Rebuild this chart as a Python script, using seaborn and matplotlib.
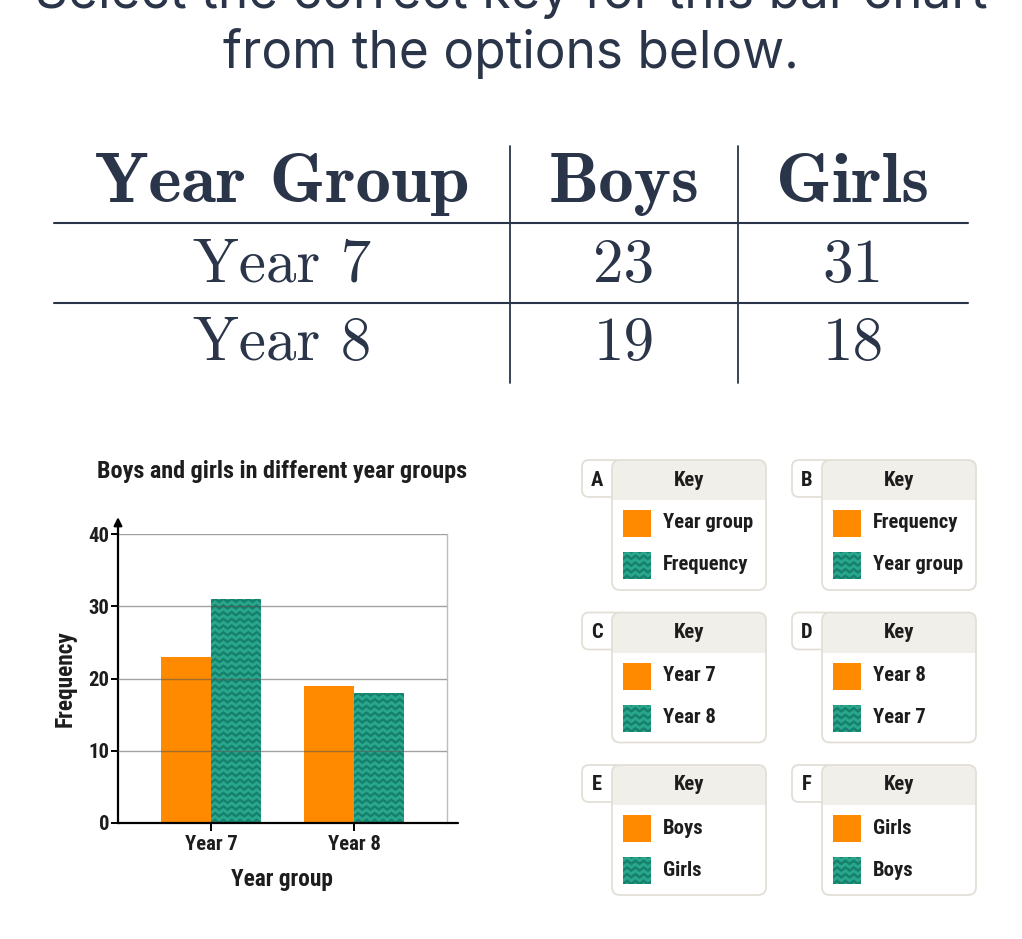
import numpy as np
import pandas as pd
import matplotlib
matplotlib.use('Agg')
import matplotlib.pyplot as plt
import seaborn as sns
from matplotlib import font_manager
from matplotlib.font_manager import FontProperties
from matplotlib.patches import FancyBboxPatch, Rectangle
from matplotlib.lines import Line2D
from matplotlib.transforms import IdentityTransform

# data
years = ['Year 7', 'Year 8']
boys = [23, 19]
girls = [31, 18]
table_head = ['Year Group', 'Boys', 'Girls']
key_letters = ['A', 'B', 'C', 'D', 'E', 'F']
key_first = ['Year group', 'Frequency', 'Year 7', 'Year 8', 'Boys', 'Girls']
key_second = ['Frequency', 'Year group', 'Year 8', 'Year 7', 'Girls', 'Boys']
title = 'Boys and girls in different year groups'

ORANGE = '#FF8A00'
TEAL = '#29A68C'
ZIG = '#15806B'
INK = '#2B3549'
EDGE = '#E2DFD7'
BEIGE = '#F1EFEA'
DARK = '#1D1D1D'

sns.set_style('white')
plt.rcParams['font.family'] = ['Roboto', 'DejaVu Sans']

# look for a narrow/condensed bold face, the chart uses one
order = ['Liberation Sans Narrow', 'Roboto Condensed', 'Noto Sans', 'Open Sans', 'DejaVu Sans']
cands = []
for f in font_manager.fontManager.ttflist:
    bold = f.weight in (700, 'bold')
    narrow = f.stretch == 'condensed' or 'Narrow' in f.name or 'Condensed' in f.name
    if bold and narrow and f.style == 'normal':
        rank = next((i for i, n in enumerate(order) if f.name.startswith(n)), 99)
        cands.append((rank, f.fname))
if cands:
    FP = FontProperties(fname=sorted(cands)[0][1])
else:
    FP = FontProperties(family='Roboto', weight='bold')


def nf(size):
    p = FP.copy()
    p.set_size(size)
    return p


W, H = 1022, 939
fig = plt.figure(figsize=(W / 100, H / 100), dpi=100)
fig.patch.set_facecolor('white')
rend = fig.canvas.get_renderer()

# scale the narrow face so the chart title is as wide as in the picture
probe = fig.text(0, 0, title, fontproperties=nf(17.5))
k = 369 / probe.get_window_extent(rend).width
probe.remove()

# full-figure canvas in pixel units (y down)
bg = fig.add_axes([0, 0, 1, 1])
bg.set_xlim(0, W)
bg.set_ylim(H, 0)
bg.axis('off')

bg.text(511, 8, 'Select the correct key for this bar chart', ha='center', va='baseline',
        fontsize=37, family=['Inter', 'DejaVu Sans'], color=INK)
bg.text(511, 68, 'from the options below.', ha='center', va='baseline',
        fontsize=37, family=['Inter', 'DejaVu Sans'], color=INK)

# table
col_x = [282, 624, 853]
for x, t in zip(col_x, table_head):
    bg.text(x, 202, t, ha='center', va='baseline', fontsize=51,
            family=['cmb10', 'DejaVu Serif'], color=INK)
rows = [[y, str(b), str(g)] for y, b, g in zip(years, boys, girls)]
for base, row in zip([282, 360], rows):
    for x, t in zip(col_x, row):
        bg.text(x, base, t, ha='center', va='baseline', fontsize=44,
                family=['cmr10', 'DejaVu Serif'], color=INK)
for y in [223, 303]:
    bg.plot([54, 968], [y, y], color=INK, lw=1.5)
for x in [510, 738]:
    bg.plot([x, x], [146, 383], color=INK, lw=1.3)


def zigzag(ax, patch, step=6.7, period=8.3, amp=3.2):
    bb = patch.get_window_extent(rend)
    xs = np.arange(bb.x0 - period, bb.x1 + period, period / 2)
    for y in np.arange(bb.y0 - step, bb.y1 + step, step):
        ys = y + amp * (np.arange(len(xs)) % 2)
        ln = Line2D(xs, ys, transform=IdentityTransform(), color=ZIG, lw=1.7,
                    solid_joinstyle='miter', zorder=patch.get_zorder() + 0.1)
        ax.add_artist(ln)
        ln.set_clip_path(patch)


# key boxes
for i, (let, a, b) in enumerate(zip(key_letters, key_first, key_second)):
    bx = 612 + 210 * (i % 2)
    by = 460 + 152.5 * (i // 2)
    bg.add_patch(FancyBboxPatch((bx - 30, by), 40, 37, boxstyle='round,pad=0,rounding_size=7',
                                fc='white', ec=EDGE, lw=1.3, zorder=1))
    bg.add_patch(FancyBboxPatch((bx, by), 154, 130, boxstyle='round,pad=0,rounding_size=8',
                                fc='white', ec='none', zorder=2))
    bg.add_patch(FancyBboxPatch((bx, by), 154, 40, boxstyle='round,pad=0,rounding_size=8',
                                fc=BEIGE, ec='none', zorder=3))
    bg.add_patch(Rectangle((bx, by + 20), 154, 20, fc=BEIGE, ec='none', zorder=3))
    bg.add_patch(FancyBboxPatch((bx, by), 154, 130, boxstyle='round,pad=0,rounding_size=8',
                                fc='none', ec=EDGE, lw=1.3, zorder=4))
    bg.text(bx - 15, by + 20, let, ha='center', va='center', fontproperties=nf(15 * k),
            color=DARK, zorder=5)
    bg.text(bx + 77, by + 20, 'Key', ha='center', va='center', fontproperties=nf(15 * k),
            color=DARK, zorder=5)
    s1 = Rectangle((bx + 11, by + 50), 28, 27, fc=ORANGE, ec='none', zorder=5)
    s2 = Rectangle((bx + 11, by + 92), 28, 27, fc=TEAL, ec='none', zorder=5)
    bg.add_patch(s1)
    bg.add_patch(s2)
    zigzag(bg, s2)
    bg.text(bx + 51, by + 63, a, ha='left', va='center', fontproperties=nf(15 * k),
            color=DARK, zorder=5)
    bg.text(bx + 51, by + 105, b, ha='left', va='center', fontproperties=nf(15 * k),
            color=DARK, zorder=5)

# bar chart
ax = fig.add_axes([118 / W, 1 - 823 / H, (447 - 118) / W, (823 - 534) / H])
ax.set_facecolor('none')
df = pd.DataFrame({'Year group': years * 2,
                   'Gender': ['Boys'] * len(years) + ['Girls'] * len(years),
                   'Frequency': boys + girls})
sns.barplot(data=df, x='Year group', y='Frequency', hue='Gender',
            palette={'Boys': ORANGE, 'Girls': TEAL}, width=0.7, saturation=1,
            errorbar=None, linewidth=0, legend=False, ax=ax)
ax.set_xlim(-0.65, 1.65)
ax.set_ylim(0, 40)
ax.set_yticks([0, 10, 20, 30, 40])
ax.yaxis.grid(True, color='#555555', lw=1.0, alpha=0.55)
ax.set_axisbelow(False)

for p in ax.patches:
    if matplotlib.colors.to_hex(p.get_facecolor()).lower() == TEAL.lower():
        zigzag(ax, p)

for s in ['top', 'bottom']:
    ax.spines[s].set_visible(False)
ax.spines['right'].set_color('#BDBDBD')
ax.spines['right'].set_linewidth(1.0)
ax.spines['left'].set_color('black')
ax.spines['left'].set_linewidth(1.6)
ax.plot([0, 1.034], [0, 0], transform=ax.transAxes, color='black', lw=1.6,
        clip_on=False, zorder=6)
ax.annotate('', xy=(0, 1.068), xytext=(0, 0.99), xycoords='axes fraction',
            arrowprops=dict(arrowstyle='-|>', color='black', lw=1.6, mutation_scale=12),
            annotation_clip=False)

ax.tick_params(axis='y', left=True, length=5, width=1.4, color='black', pad=1)
ax.tick_params(axis='x', bottom=True, length=6, width=1.4, color='black', pad=3)
for lab in ax.get_xticklabels() + ax.get_yticklabels():
    lab.set_fontproperties(nf(15 * k))
    lab.set_color(DARK)

ax.set_xlabel('Year group', fontproperties=nf(17 * k), color=DARK)
ax.set_ylabel('Frequency', fontproperties=nf(17 * k), color=DARK)
ax.xaxis.set_label_coords(0.499, -0.197)
ax.xaxis.label.set_va('center')
ax.yaxis.set_label_coords(-0.161, 0.498)
ax.yaxis.label.set_va('center')
ax.set_title(title, fontproperties=nf(17.5 * k), color=DARK, y=1.187, va='center')

fig.savefig('out.png', dpi=100, facecolor='white')
